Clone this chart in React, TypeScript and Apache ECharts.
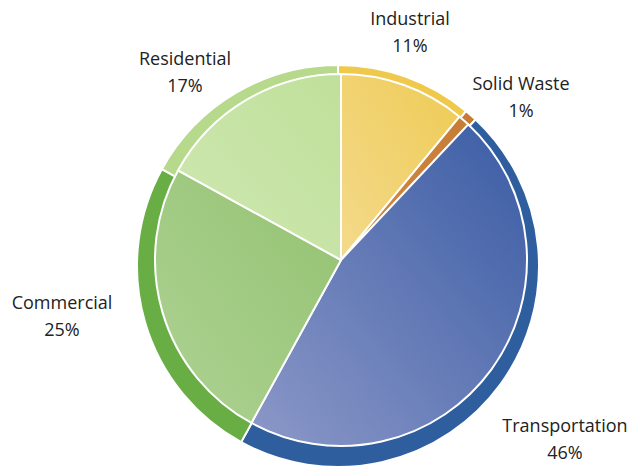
import React, { useEffect, useRef } from "react";
import * as echarts from "echarts";

const categories = ["Industrial", "Solid Waste", "Transportation", "Commercial", "Residential"];
const shares = [11, 1, 46, 25, 17];

const bandColors = ["#EEC94C", "#C77C36", "#2F5E9E", "#68AE45", "#B6D98C"];
const innerTop = ["#EECB55", "#C77C36", "#3A5CA4", "#93C271", "#BFE09A"];
const innerBottom = ["#F4DA8C", "#D08A45", "#8C98C8", "#AED293", "#CFE8B2"];
const labelPos: [number, number][] = [
  [410, 31],
  [521, 96],
  [565, 438],
  [62, 315],
  [185, 71],
];

export default function App() {
  const ref = useRef<HTMLDivElement>(null);
  useEffect(() => {
    document.body.style.margin = "0";
    const chart = echarts.init(ref.current!, null, { renderer: "svg" });
    const outerData = categories.map((name, i) => ({
      name,
      value: shares[i],
      itemStyle: { color: bandColors[i] },
    }));
    const innerData = categories.map((name, i) => ({
      name,
      value: shares[i],
      itemStyle: {
        color: new echarts.graphic.LinearGradient(1, 0, 0, 1, [
          { offset: 0, color: innerTop[i] },
          { offset: 1, color: innerBottom[i] },
        ]),
      },
    }));
    chart.setOption({
      animation: false,
      backgroundColor: "#ffffff",
      series: [
        {
          type: "pie",
          center: [338, 266],
          radius: 201,
          startAngle: 90,
          clockwise: true,
          data: outerData,
          itemStyle: { borderColor: "#ffffff", borderWidth: 2 },
          labelLine: { show: false },
          label: {
            show: true,
            formatter: "{b}\n{c}%",
            fontFamily: "Open Sans",
            fontSize: 18,
            lineHeight: 27,
            color: "#222222",
            align: "center",
            overflow: "none",
            width: 200,
          },
          labelLayout: (p: any) => ({
            x: labelPos[p.dataIndex][0],
            y: labelPos[p.dataIndex][1],
            align: "center",
            verticalAlign: "middle",
          }),
          emphasis: { disabled: true },
        },
        {
          type: "pie",
          center: [341, 260],
          radius: 186,
          startAngle: 90,
          clockwise: true,
          silent: true,
          data: innerData,
          itemStyle: { borderColor: "#ffffff", borderWidth: 2 },
          label: { show: false },
          labelLine: { show: false },
          emphasis: { disabled: true },
        },
      ],
    });
    return () => chart.dispose();
  }, []);
  return <div ref={ref} style={{ width: 634, height: 474 }} />;
}
